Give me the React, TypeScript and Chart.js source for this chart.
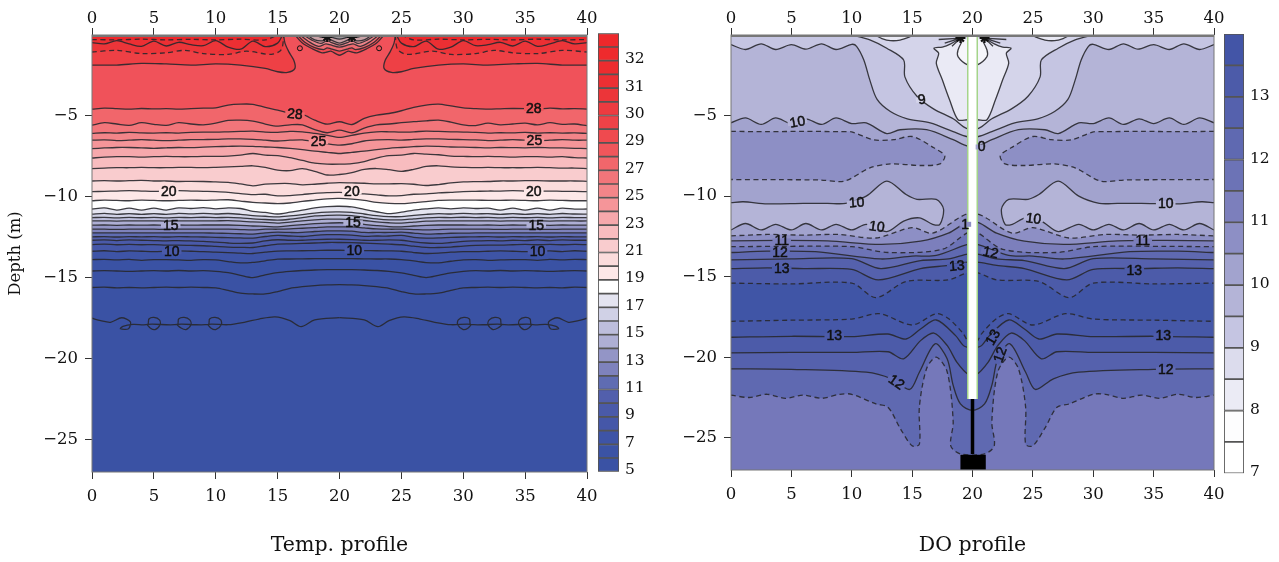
import React, { useEffect, useRef } from "react";
import { Chart, registerables } from "chart.js";

Chart.register(...registerables);

const xTickValues = [0, 5, 10, 15, 20, 25, 30, 35, 40];
const depthTicks = [-5, -10, -15, -20, -25];

// ---------- temperature colour bar ----------
const tempBarColors = ["#3a52a4","#3b53a5","#3e54a6","#4557a8","#4a5aa9","#525fac","#5f6cb2","#7e82bc","#9395c6","#aeafd4","#bdbedc","#d0d1e6","#e4e4f0","#ffffff","#fde8e8","#fbdcdc","#f9ccce","#f8bcbf","#f6a8ac","#f59599","#f38589","#f2757a","#f1666b","#f0565b","#ef4a4f","#ee4247","#ed3b40","#ec3539","#ec2f33","#ec2c2f","#ee2a2d","#ee282b"];
const tempBarTicks = ["5","7","9","11","13","15","17","19","21","23","25","27","29","30","31","32"];
// ---------- DO colour bar ----------
const doBarColors = ["#ffffff","#fdfdfe","#ebebf5","#dcdced","#c5c5e2","#b4b4d7","#a2a3ce","#8d8fc5","#7c7fbc","#6c73b6","#5f69b1","#5561ad","#4c5ba9","#4355a7"];
const doBarTicks = ["7","8","9","10","11","12","13"];

// ---------- temperature contours ----------
const gridX = [0,1,2,3,4,5,6,7,8,9,10,11,12,13,14,15,16,17,18,19,20,21,22,23,24,25,26,27,28,29,30,31,32,33,34,35,36,37,38,39,40];
const t1Lx = [0,2,4,6,8,10,12,14,15];
const t1Ly = [-0.28,-0.3,-0.26,-0.3,-0.27,-0.3,-0.26,-0.3,0];
const t1Rx = [25,26,28,30,32,34,36,38,40];
const t1Ry = [0,-0.3,-0.26,-0.3,-0.27,-0.3,-0.26,-0.3,-0.28];
const t2Lx = [0,1,2,3,4,5,6,7,8,9,10,11,12,13,14,15,15.4];
const t2Ly = [-0.47,-0.55,-0.35,-0.55,-0.7,-0.38,-0.68,-0.45,-0.6,-0.66,-0.35,-0.75,-0.88,-0.38,-0.72,-0.5,0];
const t2Rx = [24.6,25,26,27,28,29,30,31,32,33,34,35,36,37,38,39,40];
const t2Ry = [0,-0.5,-0.72,-0.38,-0.88,-0.75,-0.35,-0.66,-0.6,-0.45,-0.68,-0.38,-0.7,-0.55,-0.35,-0.55,-0.47];
const t3Lx = [0,2,4,6,7.5,9,11,12.5,14.5,15.3,15.5];
const t3Ly = [-1.05,-0.95,-1.15,-1.1,-0.95,-1.15,-1.2,-1,-1.2,-0.9,0];
const t3Rx = [24.5,24.7,25.5,27.5,29,31,32.5,34,36,38,40];
const t3Ry = [0,-0.9,-1.2,-1,-1.2,-1.15,-0.95,-1.1,-1.15,-0.95,-1.05];
const t4Lx = [0,2,4,6,8,10,12,14,15,15.8,16.4,16.3,15.9,15.6,15.5,15.5];
const t4Ly = [-1.86,-1.86,-1.75,-1.79,-1.86,-1.79,-1.86,-2.06,-2.27,-2.31,-2.06,-1.55,-1.03,-0.52,-0.1,0];
const t4Rx = [24.5,24.5,24.4,24.1,23.7,23.6,24.2,25,26,28,30,32,34,36,38,40];
const t4Ry = [0,-0.1,-0.52,-1.03,-1.55,-2.06,-2.31,-2.27,-2.06,-1.86,-1.79,-1.86,-1.79,-1.75,-1.86,-1.86];
const arcAx = [16.4,17,17.8,18.6,19,19.3,19.8,20,20.2,20.7,21,21.4,22.2,23,23.6];
const arcAy = [0,-0.5,-0.85,-1.1,-1.05,-1,-1.2,-1.25,-1.2,-1,-1.05,-1.1,-0.85,-0.5,0];
const arcA2x = [16.6,17.2,18,18.7,19,19.3,20,20.7,21,21.3,22,22.8,23.4];
const arcA2y = [0,-0.45,-0.78,-0.9,-0.8,-0.85,-1,-0.85,-0.8,-0.9,-0.78,-0.45,0];
const arcBx = [16.8,17.5,18.3,18.9,19.2,20,20.8,21.1,21.7,22.5,23.2];
const arcBy = [0,-0.4,-0.7,-0.55,-0.6,-0.75,-0.6,-0.55,-0.7,-0.4,0];
const arcB2x = [17.1,17.8,18.5,19,19.3,20,20.7,21,21.5,22.2,22.9];
const arcB2y = [0,-0.33,-0.52,-0.35,-0.45,-0.62,-0.45,-0.35,-0.52,-0.33,0];
const arcCx = [17.4,18,18.7,19,19.3,20,20.7,21,21.3,22,22.6];
const arcCy = [0,-0.3,-0.35,-0.15,-0.3,-0.5,-0.3,-0.15,-0.35,-0.3,0];
const arcDx = [18,18.6,19,19.4,20,20.6,21,21.4,22];
const arcDy = [0,-0.15,-0.08,-0.15,-0.25,-0.15,-0.08,-0.15,0];
const tStarX = [19,21];
const tStarY = [-0.12,-0.12];
const tRingX = [16.8,23.2];
const tRingY = [-0.82,-0.82];

const t5 = [-4.58,-4.52,-4.55,-4.58,-4.54,-4.57,-4.55,-4.58,-4.55,-4.52,-4.5,-4.33,-4.27,-4.28,-4.47,-4.64,-4.85,-4.91,-5.26,-5.51,-5.36,-5.53,-5.15,-4.95,-4.85,-4.68,-4.47,-4.33,-4.27,-4.38,-4.5,-4.55,-4.58,-4.56,-4.54,-4.55,-4.58,-4.52,-4.56,-4.55,-4.58];
const t6 = [-5.57,-5.42,-5.5,-5.58,-5.42,-5.52,-5.58,-5.42,-5.5,-5.55,-5.45,-5.28,-5.26,-5.32,-5.5,-5.63,-5.55,-5.55,-5.85,-6.04,-5.88,-6.04,-5.75,-5.55,-5.5,-5.42,-5.35,-5.3,-5.26,-5.38,-5.55,-5.6,-5.45,-5.55,-5.5,-5.45,-5.55,-5.42,-5.52,-5.5,-5.6];
const t7 = [-6.08,-6.04,-6.06,-6.02,-6.05,-6.06,-6.04,-6.06,-6.02,-6,-6,-5.98,-5.96,-5.94,-6,-6.02,-5.96,-5.98,-6.08,-6.2,-6.33,-6.2,-6.06,-5.98,-5.98,-6,-5.98,-5.94,-5.96,-5.98,-6,-6.02,-6.06,-6.04,-6.05,-6.02,-6.06,-6.04,-6.06,-6.05,-6.08];
const t8 = [-6.5,-6.48,-6.52,-6.5,-6.47,-6.5,-6.52,-6.5,-6.47,-6.46,-6.45,-6.42,-6.42,-6.45,-6.5,-6.55,-6.5,-6.48,-6.6,-6.72,-6.8,-6.72,-6.55,-6.48,-6.46,-6.5,-6.45,-6.42,-6.42,-6.45,-6.46,-6.48,-6.52,-6.5,-6.47,-6.5,-6.52,-6.5,-6.47,-6.5,-6.5];
const t9 = [-7.02,-6.98,-6.95,-6.95,-6.97,-7,-6.97,-6.95,-6.96,-6.93,-6.9,-6.88,-6.86,-6.88,-6.92,-6.95,-7,-7.08,-7.18,-7.25,-7.32,-7.25,-7.18,-7.08,-7,-6.95,-6.9,-6.86,-6.88,-6.92,-6.93,-6.95,-6.98,-6.95,-6.96,-6.97,-6.95,-6.97,-6.98,-7,-7.02];
const t10 = [-7.6,-7.55,-7.52,-7.52,-7.55,-7.52,-7.5,-7.52,-7.52,-7.5,-7.5,-7.48,-7.42,-7.32,-7.42,-7.45,-7.58,-7.75,-7.92,-7.98,-7.98,-7.95,-7.82,-7.6,-7.45,-7.42,-7.32,-7.36,-7.4,-7.48,-7.5,-7.52,-7.5,-7.52,-7.55,-7.52,-7.52,-7.55,-7.52,-7.58,-7.6];
const t11 = [-8.25,-8.22,-8.2,-8.2,-8.18,-8.2,-8.2,-8.18,-8.18,-8.2,-8.18,-8.15,-8.12,-8.08,-8.18,-8.35,-8.38,-8.25,-8.42,-8.65,-8.62,-8.5,-8.3,-8.25,-8.32,-8.42,-8.3,-8.12,-8.08,-8.15,-8.18,-8.2,-8.18,-8.2,-8.2,-8.2,-8.18,-8.2,-8.22,-8.22,-8.25];
const t12 = [-9.02,-9,-9.02,-9,-8.98,-9.02,-9.02,-9.05,-9.04,-9.05,-9.08,-9.1,-9.2,-9.32,-9.22,-9.18,-9.18,-9.26,-9.22,-9.16,-9.12,-9.14,-9.16,-9.2,-9.2,-9.18,-9.22,-9.3,-9.24,-9.14,-9.08,-9.06,-9.05,-9.02,-9.02,-9,-9,-9.02,-9.02,-9.02,-9.04];
const t13 = [-9.68,-9.66,-9.64,-9.62,-9.64,-9.66,-9.64,-9.62,-9.64,-9.66,-9.68,-9.72,-9.8,-9.86,-9.84,-9.94,-9.92,-9.86,-9.78,-9.74,-9.72,-9.76,-9.82,-9.88,-9.94,-9.92,-9.84,-9.82,-9.76,-9.72,-9.68,-9.66,-9.64,-9.64,-9.62,-9.64,-9.66,-9.64,-9.66,-9.66,-9.68];
const t14 = [-10.24,-10.2,-10.22,-10.24,-10.2,-10.22,-10.24,-10.22,-10.2,-10.22,-10.2,-10.18,-10.26,-10.34,-10.38,-10.42,-10.38,-10.28,-10.2,-10.12,-10.1,-10.14,-10.22,-10.34,-10.4,-10.42,-10.36,-10.3,-10.22,-10.2,-10.2,-10.2,-10.22,-10.22,-10.2,-10.22,-10.24,-10.2,-10.22,-10.24,-10.24];
const t15 = [-10.75,-10.68,-10.82,-10.7,-10.82,-10.7,-10.82,-10.68,-10.72,-10.66,-10.74,-10.68,-10.72,-10.9,-10.96,-11.06,-10.95,-10.82,-10.68,-10.6,-10.58,-10.62,-10.78,-10.92,-11.04,-10.95,-10.82,-10.74,-10.68,-10.74,-10.68,-10.72,-10.7,-10.82,-10.7,-10.82,-10.7,-10.82,-10.7,-10.76,-10.75];
const t16 = [-11.07,-11.02,-11.08,-11.04,-11.08,-11.04,-11.08,-11.02,-11.05,-11.02,-11.06,-11.03,-11.08,-11.16,-11.2,-11.24,-11.18,-11.1,-11,-10.94,-10.93,-10.96,-11.06,-11.16,-11.22,-11.22,-11.14,-11.08,-11.04,-11.06,-11.02,-11.05,-11.04,-11.08,-11.04,-11.08,-11.04,-11.08,-11.03,-11.06,-11.07];
const t17 = [-11.28,-11.27,-11.3,-11.27,-11.29,-11.27,-11.3,-11.27,-11.28,-11.26,-11.28,-11.27,-11.3,-11.36,-11.4,-11.44,-11.38,-11.28,-11.18,-11.14,-11.13,-11.16,-11.26,-11.36,-11.42,-11.42,-11.36,-11.3,-11.27,-11.28,-11.26,-11.28,-11.27,-11.3,-11.27,-11.29,-11.27,-11.3,-11.27,-11.28,-11.28];
const t18 = [-11.49,-11.48,-11.5,-11.48,-11.49,-11.48,-11.5,-11.48,-11.49,-11.48,-11.48,-11.47,-11.5,-11.55,-11.58,-11.62,-11.56,-11.48,-11.42,-11.38,-11.38,-11.4,-11.46,-11.55,-11.6,-11.62,-11.56,-11.5,-11.48,-11.48,-11.48,-11.49,-11.48,-11.5,-11.48,-11.49,-11.48,-11.5,-11.48,-11.49,-11.49];
const t19 = [-11.75,-11.74,-11.76,-11.74,-11.75,-11.74,-11.76,-11.74,-11.75,-11.74,-11.74,-11.74,-11.76,-11.8,-11.82,-11.85,-11.78,-11.72,-11.66,-11.62,-11.6,-11.62,-11.7,-11.78,-11.84,-11.85,-11.8,-11.76,-11.74,-11.74,-11.74,-11.75,-11.74,-11.76,-11.74,-11.75,-11.74,-11.76,-11.74,-11.75,-11.75];
const t20 = [-12,-12,-12.01,-12,-12,-12,-12.01,-12,-12,-12,-12,-12,-12.02,-12.04,-12,-12,-11.98,-11.94,-11.9,-11.86,-11.85,-11.86,-11.92,-11.98,-12,-12,-12.02,-12.04,-12.02,-12,-12,-12,-12,-12.01,-12,-12,-12,-12.01,-12,-12,-12];
const t21 = [-12.23,-12.22,-12.23,-12.22,-12.23,-12.23,-12.22,-12.23,-12.22,-12.23,-12.24,-12.26,-12.28,-12.3,-12.22,-12.18,-12.2,-12.2,-12.14,-12.1,-12.1,-12.12,-12.2,-12.2,-12.2,-12.18,-12.24,-12.3,-12.28,-12.25,-12.24,-12.23,-12.22,-12.23,-12.22,-12.23,-12.23,-12.22,-12.23,-12.22,-12.23];
const t22 = [-12.47,-12.46,-12.48,-12.46,-12.47,-12.46,-12.48,-12.46,-12.47,-12.48,-12.5,-12.52,-12.54,-12.55,-12.45,-12.38,-12.42,-12.45,-12.38,-12.34,-12.33,-12.36,-12.44,-12.42,-12.42,-12.38,-12.5,-12.55,-12.54,-12.5,-12.48,-12.47,-12.46,-12.48,-12.46,-12.47,-12.46,-12.48,-12.46,-12.47,-12.47];
const t23 = [-12.68,-12.66,-12.7,-12.66,-12.68,-12.7,-12.72,-12.7,-12.72,-12.75,-12.8,-12.85,-12.88,-12.85,-12.72,-12.65,-12.68,-12.68,-12.64,-12.62,-12.62,-12.64,-12.68,-12.68,-12.66,-12.68,-12.78,-12.85,-12.88,-12.82,-12.75,-12.72,-12.7,-12.72,-12.68,-12.7,-12.66,-12.7,-12.66,-12.68,-12.68];
const t24 = [-12.95,-12.92,-12.96,-12.94,-12.96,-12.95,-12.98,-12.98,-13,-13.02,-13.06,-13.1,-13.12,-13.13,-13.02,-12.92,-12.9,-12.88,-12.85,-12.82,-12.82,-12.83,-12.86,-12.89,-12.92,-12.96,-13.05,-13.12,-13.13,-13.1,-13.04,-13,-12.98,-12.98,-12.96,-12.94,-12.96,-12.94,-12.96,-12.94,-12.95];
const t25 = [-13.36,-13.33,-13.38,-13.34,-13.36,-13.38,-13.36,-13.34,-13.36,-13.38,-13.42,-13.44,-13.48,-13.5,-13.42,-13.35,-13.34,-13.33,-13.32,-13.3,-13.3,-13.31,-13.32,-13.33,-13.34,-13.36,-13.44,-13.5,-13.48,-13.42,-13.38,-13.38,-13.36,-13.34,-13.36,-13.38,-13.36,-13.34,-13.38,-13.33,-13.36];
const t26 = [-13.88,-13.86,-13.9,-13.86,-13.92,-13.88,-13.88,-13.9,-13.92,-13.88,-13.9,-14,-14.08,-14.05,-13.95,-13.85,-13.84,-13.83,-13.82,-13.82,-13.82,-13.82,-13.83,-13.84,-13.84,-13.88,-13.96,-14.06,-14.08,-13.98,-13.9,-13.88,-13.92,-13.9,-13.88,-13.88,-13.92,-13.86,-13.9,-13.86,-13.88];
const t27 = [-14.58,-14.56,-14.58,-14.6,-14.58,-14.56,-14.58,-14.55,-14.58,-14.56,-14.6,-14.68,-14.85,-14.99,-14.82,-14.68,-14.6,-14.55,-14.52,-14.5,-14.5,-14.5,-14.52,-14.55,-14.6,-14.7,-14.85,-14.99,-14.85,-14.7,-14.6,-14.56,-14.58,-14.55,-14.58,-14.56,-14.58,-14.6,-14.58,-14.56,-14.58];
const t28 = [-15.6,-15.58,-15.62,-15.6,-15.62,-15.6,-15.58,-15.6,-15.58,-15.6,-15.62,-15.78,-15.95,-16,-16,-15.85,-15.65,-15.55,-15.48,-15.44,-15.42,-15.44,-15.48,-15.55,-15.65,-15.85,-16,-16,-15.95,-15.78,-15.62,-15.6,-15.58,-15.6,-15.58,-15.6,-15.62,-15.6,-15.62,-15.58,-15.6];
const curlLx = [0,0.7,1.5,2.4,3.1,2.95,2.3,2.5,3.3,4.5,4.6,5,5.45,5.5,5.1,4.7,4.5,6.9,7,7.45,7.9,8,7.6,7.2,6.9,9.4,9.5,9.95,10.4,10.45,10,9.6,9.4,11,12.3,13.5,14.8,16,16.9,18,20];
const curlLy = [-17.5,-17.65,-17.75,-17.47,-17.73,-18.15,-18.15,-18,-17.88,-17.88,-17.55,-17.45,-17.6,-17.9,-18.2,-18.1,-17.88,-17.88,-17.55,-17.45,-17.6,-17.9,-18.2,-18.1,-17.88,-17.88,-17.55,-17.45,-17.6,-17.9,-18.2,-18.1,-17.88,-17.9,-17.75,-17.55,-17.42,-17.65,-18.02,-17.6,-17.46];
const curlRx = [20,22,23.1,24,25.2,26.5,27.7,29,30.6,30.4,30,29.55,29.6,30.05,30.5,30.6,33.1,32.8,32.4,32,32.1,32.55,33,33.1,35.5,35.3,34.9,34.5,34.55,35,35.4,35.5,36.7,37.5,37.7,37.05,36.9,37.6,38.5,39.3,40];
const curlRy = [-17.46,-17.6,-18.02,-17.65,-17.42,-17.55,-17.75,-17.9,-17.88,-18.1,-18.2,-17.9,-17.6,-17.45,-17.55,-17.88,-17.88,-18.1,-18.2,-17.9,-17.6,-17.45,-17.55,-17.88,-17.88,-18.1,-18.2,-17.9,-17.6,-17.45,-17.55,-17.88,-17.88,-18,-18.15,-18.15,-17.73,-17.47,-17.75,-17.65,-17.5];

const tempBase = "#f0525a";
const tempBands = ["#f1666b","#f2757a","#f38589","#f59599","#f6a8ac","#f8bcbf","#f9ccce","#fbdcdc","#fde8e8","#ffffff","#e4e4f0","#d0d1e6","#bdbedc","#aeafd4","#9395c6","#7e82bc","#5f6cb2","#525fac","#4a5aa9","#4557a8","#3e54a6","#3a52a4","#3a52a4","#3a52a4"];
const tempRows = [t5,t6,t7,t8,t9,t10,t11,t12,t13,t14,t15,t16,t17,t18,t19,t20,t21,t22,t23,t24,t25,t26,t27,t28];

const tempLabelX = [16.4,35.7,18.3,35.75,6.2,21,35.7,6.36,21.1,35.9,6.44,21.2,36];
const tempLabelY = [-4.89,-4.54,-6.6,-6.54,-9.69,-9.69,-9.69,-11.75,-11.6,-11.75,-13.4,-13.34,-13.4];
const tempLabelText = ["28","28","25","25","20","20","20","15","15","15","10","10","10"];
const tempLabelBg = ["#f1666b","#f0565b","#f59599","#f59599","#fde8e8","#fde8e8","#fde8e8","#aeafd4","#aeafd4","#aeafd4","#4a5aa9","#4a5aa9","#4a5aa9"];
const tempLabelAngle = [5,0,0,0,0,0,0,0,0,0,0,0,0];

// ---------- dissolved oxygen contours ----------
const r1x = [0,1.2,2.5,3.7,5,6.2,7.5,8.7,10,10.4,11,11.5,12.1,13.2,14.6,16.5,18.4,19.5,20.5,21.6,23.5,25.4,26.8,27.9,28.5,29,29.6,30,31.3,32.5,33.7,35,36.3,37.5,38.8,40];
const r1y = [-0.6,-0.9,-0.55,-0.9,-0.6,-0.88,-0.55,-0.9,-0.58,-0.7,-1.55,-2.8,-4,-4.75,-5.2,-5.46,-6,-6.3,-6.3,-6,-5.46,-5.2,-4.75,-4,-2.8,-1.55,-0.7,-0.58,-0.9,-0.55,-0.88,-0.6,-0.9,-0.55,-0.9,-0.6];
const r2x = [10,11.5,12.9,14.3,14.4,15.4,16.8,18.4,19.5,20.5,21.6,23.2,24.6,25.6,25.7,27.1,28.5,30];
const r2y = [0,-0.3,-0.82,-1.55,-2.6,-3.8,-4.6,-5.2,-5.8,-5.8,-5.2,-4.6,-3.8,-2.6,-1.55,-0.82,-0.3,0];
const r3x = [19,18.2,17.5,16.8,17.2,17,17.5,18.1,18.8,19.6,20.4,21.2,21.9,22.5,23,22.8,23.2,22.5,21.8,21];
const r3y = [-0.2,-0.55,-0.75,-0.82,-1.13,-1.75,-2.78,-4.02,-5.26,-5.26,-5.26,-5.26,-4.02,-2.78,-1.75,-1.13,-0.82,-0.75,-0.55,-0.2];
const r4x = [19.2,18.8,18.8,19.6,20.4,21.2,21.2,20.8];
const r4y = [-0.3,-0.93,-1.34,-1.85,-1.85,-1.34,-0.93,-0.3];
const lensLx = [12,12.5,13.2,14,14.7,15];
const lensLy = [-0.03,-0.22,-0.35,-0.32,-0.15,-0.03];
const lensRx = [25,25.3,26,26.8,27.5,28];
const lensRy = [-0.03,-0.15,-0.32,-0.35,-0.22,-0.03];
const fanAx = [17.2,19,17.7,19,18.3];
const fanAy = [-0.28,-0.2,-0.5,-0.2,-0.7];
const fanBx = [22.8,21,22.3,21,21.7];
const fanBy = [-0.28,-0.2,-0.5,-0.2,-0.7];
const r5x = [0,1.2,2.5,3.7,5,6.2,7.5,8.7,10,11.2,12.9,14,16.2,18.4,19.6,20.4,21.6,23.8,26,27.1,28.8,30,31.3,32.5,33.8,35,36.3,37.5,38.8,40];
const r5y = [-5.45,-5.15,-5.55,-5.15,-5.5,-5.2,-5.55,-5.15,-5.5,-5.45,-6.12,-5.88,-5.88,-6.5,-6.9,-6.9,-6.5,-5.88,-5.88,-6.12,-5.45,-5.5,-5.15,-5.55,-5.2,-5.5,-5.15,-5.55,-5.15,-5.45];
const r6Lx = [0,3,6,9,10,11.8,13.5,15,16.8,17.7,17.3,15.7,13.2,11.5,9.4,7.4,4,0];
const r6Ly = [-5.98,-6,-5.98,-6,-6.02,-6.5,-6.5,-6.3,-7,-7.5,-8,-8.1,-8,-8.25,-9.07,-9,-8.98,-8.97];
const r6Rx = [40,37,34,31,30,28.2,26.5,25,23.2,22.3,22.7,24.3,26.8,28.5,30.6,32.6,36,40];
const r6Ry = [-5.98,-6,-5.98,-6,-6.02,-6.5,-6.5,-6.3,-7,-7.5,-8,-8.1,-8,-8.25,-9.07,-9,-8.98,-8.97];
const r7Lx = [0,1,3,6,8,9.5,11.2,12.9,14.5,15.4,17,17.6,17.3,16.7,15.6,14.3,12.9,11.2,10,8.7,7.5,6.2,5,3.7,2.5,1.2,0];
const r7Ly = [-10.41,-10.35,-10.48,-10.45,-10.45,-10.45,-10,-9.07,-9.9,-10.2,-10.2,-10.8,-11.75,-11.75,-11.35,-11.55,-12.2,-11.75,-12.1,-11.75,-12.1,-11.7,-12.1,-11.75,-12.1,-11.7,-12.1];
const r7Rx = [40,39,37,34,32,30.5,28.8,27.1,25.5,24.6,23,22.4,22.7,23.3,24.4,25.7,27.1,28.8,30,31.3,32.5,33.8,35,36.3,37.5,38.8,40];
const r7Ry = [-10.41,-10.35,-10.48,-10.45,-10.45,-10.45,-10,-9.07,-9.9,-10.2,-10.2,-10.8,-11.75,-11.75,-11.35,-11.55,-12.2,-11.75,-12.1,-11.75,-12.1,-11.7,-12.1,-11.75,-12.1,-11.7,-12.1];
const r8x = [0,3,6,9,12,15,16.7,18.9,19.6,20.4,21.1,23.3,25,28,31,34,37,40];
const r8y = [-12.47,-12.38,-12.42,-12.38,-12.6,-11.96,-12.3,-11.34,-11.1,-11.1,-11.34,-12.3,-11.96,-12.6,-12.38,-12.42,-12.38,-12.47];
const r9x = [0,4,8,12.4,15.7,18,19.5,20.5,22,24.3,27.6,32,36,40];
const r9y = [-12.78,-12.75,-12.78,-13,-12.8,-12.3,-11.65,-11.65,-12.3,-12.8,-13,-12.78,-12.75,-12.78];
const r10x = [0,4,10,13,17.5,19.6,20.4,22.5,27,30,36,40];
const r10y = [-13.14,-13.12,-13.14,-13.5,-13.3,-12.27,-12.27,-13.3,-13.5,-13.14,-13.12,-13.14];
const r11x = [0,3,7,12.4,15,17,19.6,20.4,23,25,27.6,33,37,40];
const r11y = [-13.5,-13.42,-13.45,-13.9,-13.72,-13.68,-13,-13,-13.68,-13.72,-13.9,-13.45,-13.42,-13.5];
const r12x = [0,5,10,12.4,15.7,18,19.6,20.4,22,24.3,27.6,30,35,40];
const r12y = [-13.96,-13.9,-13.88,-14.5,-14,-13.9,-13.6,-13.6,-13.9,-14,-14.5,-13.88,-13.9,-13.96];
const r13x = [0,3,6,10,12.2,15.7,18,19.6,20.4,22,24.3,27.8,30,34,37,40];
const r13y = [-14.5,-14.45,-14.5,-14.55,-15.2,-14.5,-14.3,-14.1,-14.1,-14.3,-14.5,-15.2,-14.55,-14.5,-14.45,-14.5];
const r14x = [0,5,10,12,14.5,18,19.6,20.4,22,25.5,28,30,35,40];
const r14y = [-15.4,-15.45,-15.4,-16.3,-15.3,-15.2,-14.75,-14.75,-15.2,-15.3,-16.3,-15.4,-15.45,-15.4];
const r15x = [0,5,10,12.3,15,17,18,19.2,19.7,20.3,20.8,22,23,25,27.7,30,35,40];
const r15y = [-17.77,-17.7,-17.63,-17.3,-18,-17.3,-17.6,-18.5,-19.07,-19.07,-18.5,-17.6,-17.3,-18,-17.3,-17.63,-17.7,-17.77];
const r16x = [0,5,10,13,14.5,15.7,17,18.6,19.25,19.7,20.3,20.75,21.4,23,24.3,25.5,27,30,35,40];
const r16y = [-18.76,-18.7,-18.72,-18.56,-18.87,-18.25,-17.69,-18.66,-19.28,-19.4,-19.4,-19.28,-18.66,-17.69,-18.25,-18.87,-18.56,-18.72,-18.7,-18.76];
const r17x = [0,5,10,13,14.3,15.7,16.8,17.9,18.7,19.7,20.3,21.3,22.1,23.2,24.3,25.7,27,30,35,40];
const r17y = [-19.73,-19.7,-19.7,-19.66,-20.1,-18.97,-18.5,-19.27,-20.3,-21.1,-21.1,-20.3,-19.27,-18.5,-18.97,-20.1,-19.66,-19.7,-19.7,-19.73];
const r18x = [0,5,11.2,13.3,14.8,15.6,16.9,17.9,18.4,19,20,21,21.6,22.1,23.1,24.4,25.2,26.7,28.8,35,40];
const r18y = [-20.72,-20.75,-20.93,-21.34,-22,-20.93,-19.17,-20.1,-21.75,-22.9,-23.3,-22.9,-21.75,-20.1,-19.17,-20.93,-22,-21.34,-20.93,-20.75,-20.72];
const r19x = [0,1.5,3,4.5,6,7.5,9,10,12,13,14,15,15.6,15.6,16.2,17,17.9,18.4,18.2,19,21,21.8,21.6,22.1,23,23.8,24.4,24.4,25,26,27,28,30,31,32.5,34,35.5,37,38.5,40];
const r19y = [-22.35,-22.5,-22.3,-22.55,-22.35,-22.55,-22.3,-22.3,-22.9,-23.1,-24.4,-25.5,-25.4,-23.1,-20.7,-20,-20.9,-24,-25.5,-26,-26,-25.5,-24,-20.9,-20,-20.7,-23.1,-25.4,-25.5,-24.4,-23.1,-22.9,-22.3,-22.3,-22.55,-22.35,-22.55,-22.3,-22.5,-22.35];
const doStarX = [19,21];
const doStarY = [-0.18,-0.18];
const poleX = [20,20];
const poleY = [0,-22.6];
const rodX = [20,20];
const rodY = [-22.6,-26];
const boxX = [19,21.1];
const boxY = [-26.52,-26.52];

const doLabelX = [5.5,15.8,20.75,10.4,12.07,25.05,36,4.2,4.06,4.2,18.7,19.4,21.5,33.4,34.1,8.55,35.8,13.7,36,21.7,22.3];
const doLabelY = [-5.4,-4,-6.95,-10.4,-11.9,-11.4,-10.45,-12.78,-13.5,-14.5,-14.33,-11.75,-13.5,-14.6,-12.78,-18.66,-18.66,-21.55,-20.77,-18.76,-19.85];
const doLabelText = ["10","9","0","10","10","10","10","11","12","13","13","1","12","13","11","13","13","12","12","13","12"];
const doLabelAngle = [-10,-10,0,-5,8,8,0,0,0,0,-5,0,12,0,0,0,0,35,0,-60,-70];
const doLabelBg = ["#b4b4d7","#d4d4ea","#a2a3ce","#b4b4d7","#b4b4d7","#b4b4d7","#b4b4d7","#7c7fbc","#5f69b1","#4c5ba9","#4c5ba9","#8d8fc5","#6c73b6","#4c5ba9","#7c7fbc","#4c5ba9","#4c5ba9","#5f69b1","#5f69b1","#4c5ba9","#5561ad"];

const serif = '"DejaVu Serif"';
const contourInk = "rgba(40,40,45,0.9)";

function zip(xs: number[], ys: number[]) {
  return xs.map((x, i) => ({ x, y: ys[i] }));
}
function contour(xs: number[], ys: number[], close: string | null, color: string | null, dashed = false, tension = 0.3): any {
  return {
    data: zip(xs, ys),
    borderColor: contourInk,
    borderWidth: 1.3,
    borderDash: dashed ? [5, 3.5] : [],
    pointRadius: 0,
    tension,
    fill: false,
    regionClose: close,
    regionColor: color,
  };
}
function stroke(xs: number[], ys: number[], color: string, width: number): any {
  return { data: zip(xs, ys), borderColor: color, borderWidth: width, pointRadius: 0, tension: 0, fill: false };
}
function marks(xs: number[], ys: number[], style: string, radius: number, bg: string, w: number): any {
  return { data: zip(xs, ys), showLine: false, pointStyle: style, pointRadius: radius, pointBackgroundColor: bg, pointBorderColor: "#111", pointBorderWidth: w };
}

const regionPlugin = {
  id: "regions",
  beforeDatasetsDraw(chart: any, _a: any, opts: any) {
    const { ctx, chartArea: a } = chart;
    ctx.save();
    ctx.beginPath();
    ctx.rect(a.left, a.top, a.right - a.left, a.bottom - a.top);
    ctx.clip();
    ctx.fillStyle = opts.base;
    ctx.fillRect(a.left, a.top, a.right - a.left, a.bottom - a.top);
    chart.data.datasets.forEach((ds: any, i: number) => {
      if (!ds.regionColor) return;
      const line = chart.getDatasetMeta(i).dataset;
      line.updateControlPoints(a, "x");
      ctx.beginPath();
      line.path(ctx);
      if (ds.regionClose === "down") {
        ctx.lineTo(a.right, a.bottom);
        ctx.lineTo(a.left, a.bottom);
      } else if (ds.regionClose === "topLeft") {
        ctx.lineTo(a.left, a.top);
      } else if (ds.regionClose === "topRight") {
        ctx.lineTo(a.right, a.top);
      }
      ctx.closePath();
      ctx.fillStyle = ds.regionColor;
      ctx.fill();
    });
    ctx.restore();
  },
  afterDatasetsDraw(chart: any, _a: any, opts: any) {
    const { ctx, chartArea: a, scales } = chart;
    const l = opts.labels;
    ctx.save();
    ctx.font = '14px "Liberation Sans Narrow", "Liberation Sans"';
    ctx.textAlign = "center";
    ctx.textBaseline = "middle";
    l.text.forEach((t: string, i: number) => {
      const px = scales.x.getPixelForValue(l.x[i]);
      const py = scales.y.getPixelForValue(l.y[i]);
      ctx.save();
      ctx.translate(px, py);
      ctx.rotate((l.angle[i] * Math.PI) / 180);
      const w = ctx.measureText(t).width;
      ctx.fillStyle = l.bg[i];
      ctx.fillRect(-w / 2 - 2, -2.5, w + 4, 5);
      ctx.fillStyle = "#111";
      ctx.strokeStyle = "#111";
      ctx.lineWidth = 0.5;
      ctx.fillText(t, 0, 0.5);
      ctx.strokeText(t, 0, 0.5);
      ctx.restore();
    });
    ctx.strokeStyle = "#777";
    ctx.lineWidth = 1;
    ctx.strokeRect(a.left, a.top, a.right - a.left, a.bottom - a.top);
    ctx.lineWidth = 2;
    ctx.beginPath();
    ctx.moveTo(a.left, a.top + 1);
    ctx.lineTo(a.right, a.top + 1);
    ctx.stroke();
    ctx.restore();
  },
};

function fixedAxis(size: number, vertical: boolean) {
  return (s: any) => {
    if (vertical) s.width = size;
    else s.height = size;
  };
}
function forceTicks(values: number[]) {
  return (s: any) => {
    s.ticks = values.map((value) => ({ value }));
  };
}

function makePlot(canvas: HTMLCanvasElement, p: any) {
  const tickFont = { family: serif, size: 16.5 };
  const tick = { display: true, drawOnChartArea: false, tickLength: 7, tickColor: "#333", tickWidth: 1 };
  return new Chart(canvas, {
    type: "line",
    data: { datasets: p.datasets },
    plugins: [regionPlugin],
    options: {
      animation: false,
      responsive: false,
      events: [],
      layout: { padding: { right: p.padRight, left: 0, top: 0, bottom: 0 } },
      plugins: { legend: { display: false }, tooltip: { enabled: false }, regions: { base: p.base, labels: p.labels } } as any,
      scales: {
        x: {
          type: "linear",
          position: "bottom",
          min: 0,
          max: 40,
          grid: tick,
          border: { display: false },
          afterBuildTicks: forceTicks(xTickValues),
          afterFit: fixedAxis(p.bottomSize, false),
          ticks: { color: "#111", font: tickFont, padding: 8, maxRotation: 0, autoSkip: false },
          title: { display: true, text: p.title, color: "#111", font: { family: serif, size: 20.5 }, padding: { top: 0, bottom: 4 } },
        },
        x2: {
          type: "linear",
          position: "top",
          min: 0,
          max: 40,
          grid: tick,
          border: { display: false },
          afterBuildTicks: forceTicks(xTickValues),
          afterFit: fixedAxis(p.topSize, false),
          ticks: { color: "#111", font: tickFont, padding: -1, maxRotation: 0, autoSkip: false },
        },
        y: {
          type: "linear",
          position: "left",
          min: -27,
          max: 0,
          grid: tick,
          border: { display: false },
          afterBuildTicks: forceTicks(depthTicks),
          afterFit: fixedAxis(p.leftSize, true),
          ticks: { color: "#111", font: tickFont, padding: 7, autoSkip: false, callback: (v: any) => "\u2212" + Math.abs(v) },
          title: { display: !!p.yTitle, text: p.yTitle || "", color: "#111", font: { family: serif, size: 16.5 }, padding: { top: 6, bottom: 0 } },
        },
      },
    } as any,
  });
}

function makeBar(canvas: HTMLCanvasElement, colors: string[], ticks: string[], pad: any, axisW: number, offset: number) {
  return new Chart(canvas, {
    type: "bar",
    data: {
      labels: ["cells"],
      datasets: colors.map((c) => ({ data: [1], backgroundColor: c, borderColor: "#555", borderWidth: 1.2, borderSkipped: false, barPercentage: 1, categoryPercentage: 1, stack: "s" })),
    },
    options: {
      animation: false,
      responsive: false,
      events: [],
      layout: { padding: pad },
      plugins: { legend: { display: false }, tooltip: { enabled: false } },
      scales: {
        x: { stacked: true, display: false },
        y: {
          stacked: true,
          position: "right",
          min: 0,
          max: colors.length,
          grid: { display: false, drawTicks: false },
          border: { display: false },
          afterFit: fixedAxis(axisW, true),
          ticks: {
            stepSize: 2,
            color: "#111",
            autoSkip: false,
            padding: 6,
            labelOffset: offset,
            font: { family: serif, size: 15.5 },
            callback: (v: any) => ticks[v / 2],
          },
        },
      },
    } as any,
  });
}

export default function App() {
  const a = useRef<HTMLCanvasElement>(null);
  const b = useRef<HTMLCanvasElement>(null);
  const c = useRef<HTMLCanvasElement>(null);
  const d = useRef<HTMLCanvasElement>(null);

  useEffect(() => {
    const tempSets: any[] = [
      marks(tStarX, tStarY, "star", 5, "#111", 2),
      marks(tRingX, tRingY, "circle", 2.5, "rgba(0,0,0,0)", 1),
      contour(t4Lx, t4Ly, "topLeft", "#ee4045"),
      contour(t4Rx, t4Ry, "topRight", "#ee4045"),
      contour(t3Lx, t3Ly, "topLeft", "#ec3539", true),
      contour(t3Rx, t3Ry, "topRight", "#ec3539", true),
      contour(t2Lx, t2Ly, "topLeft", "#ec2f33"),
      contour(t2Rx, t2Ry, "topRight", "#ec2f33"),
      contour(t1Lx, t1Ly, "topLeft", "#ee282b", true),
      contour(t1Rx, t1Ry, "topRight", "#ee282b", true),
      contour(arcAx, arcAy, "self", "#f04b52"),
      contour(arcA2x, arcA2y, "self", "#ef6a70"),
      contour(arcBx, arcBy, "self", "#ee858a"),
      contour(arcB2x, arcB2y, "self", "#dc979b"),
      contour(arcCx, arcCy, "self", "#c9a2a6"),
      contour(arcDx, arcDy, "self", "#9a9498"),
      ...tempRows.map((row, i) => contour(gridX, row, "down", tempBands[i])),
      contour(curlLx, curlLy, null, null),
      contour(curlRx, curlRy, null, null),
    ];
    const doSets: any[] = [
      stroke(poleX, poleY, "#ffffff", 8),
      stroke(poleX, poleY, "#a5d48a", 11),
      stroke(rodX, rodY, "#000000", 3.5),
      stroke(boxX, boxY, "#000000", 15),
      marks(doStarX, doStarY, "star", 5, "#111", 2),
      contour(fanAx, fanAy, null, null, false, 0),
      contour(fanBx, fanBy, null, null, false, 0),
      contour(r1x, r1y, "down", "#b4b4d7"),
      contour(r2x, r2y, "self", "#d4d4ea"),
      contour(r3x, r3y, "self", "#eaeaf5"),
      contour(r4x, r4y, "self", "#f6f6fb"),
      contour(lensLx, lensLy, "self", "#e9e9f4"),
      contour(lensRx, lensRy, "self", "#e9e9f4"),
      contour(r5x, r5y, "down", "#a2a3ce"),
      contour(r6Lx, r6Ly, "self", "#8d8fc5", true),
      contour(r6Rx, r6Ry, "self", "#8d8fc5", true),
      contour(r7Lx, r7Ly, "self", "#b4b4d7"),
      contour(r7Rx, r7Ry, "self", "#b4b4d7"),
      contour(r8x, r8y, "down", "#8d8fc5", true),
      contour(r9x, r9y, "down", "#7c7fbc"),
      contour(r10x, r10y, "down", "#6c73b6", true),
      contour(r11x, r11y, "down", "#5f69b1"),
      contour(r12x, r12y, "down", "#5561ad"),
      contour(r13x, r13y, "down", "#4c5ba9"),
      contour(r14x, r14y, "down", "#4055a6", true),
      contour(r15x, r15y, "down", "#4658a8", true),
      contour(r16x, r16y, "down", "#4c5ba9"),
      contour(r17x, r17y, "down", "#5561ad"),
      contour(r18x, r18y, "down", "#5f69b1"),
      contour(r19x, r19y, "down", "#7578ba", true),
    ];
    const charts = [
      makePlot(a.current!, {
        datasets: tempSets,
        base: tempBase,
        title: "Temp. profile",
        yTitle: "Depth (m)",
        padRight: 23,
        leftSize: 92,
        topSize: 35,
        bottomSize: 90,
        labels: { x: tempLabelX, y: tempLabelY, text: tempLabelText, angle: tempLabelAngle, bg: tempLabelBg },
      }),
      makePlot(c.current!, {
        datasets: doSets,
        base: "#c5c5e2",
        title: "DO profile",
        yTitle: "",
        padRight: 20,
        leftSize: 131,
        topSize: 35,
        bottomSize: 92,
        labels: { x: doLabelX, y: doLabelY, text: doLabelText, angle: doLabelAngle, bg: doLabelBg },
      }),
      makeBar(b.current!, tempBarColors, tempBarTicks, { left: 8, top: 33.3, bottom: 90.3, right: 0 }, 31, -1.5),
      makeBar(d.current!, doBarColors, doBarTicks, { left: 8, top: 34, bottom: 88.7, right: 0 }, 35, -1),
    ];
    return () => charts.forEach((ch) => ch.destroy());
  }, []);

  const pos = (left: number, width: number) =>
    ({ position: "absolute", left, top: 0, width, height: 562, display: "block" } as React.CSSProperties);

  return (
    <div style={{ position: "absolute", left: 0, top: 0, width: 1279, height: 562, background: "#fff", overflow: "hidden" }}>
      <canvas ref={a} width={610} height={562} style={pos(0, 610)} />
      <canvas ref={b} width={60} height={562} style={pos(590, 60)} />
      <canvas ref={c} width={634} height={562} style={pos(600, 634)} />
      <canvas ref={d} width={63} height={562} style={pos(1216, 63)} />
    </div>
  );
}
